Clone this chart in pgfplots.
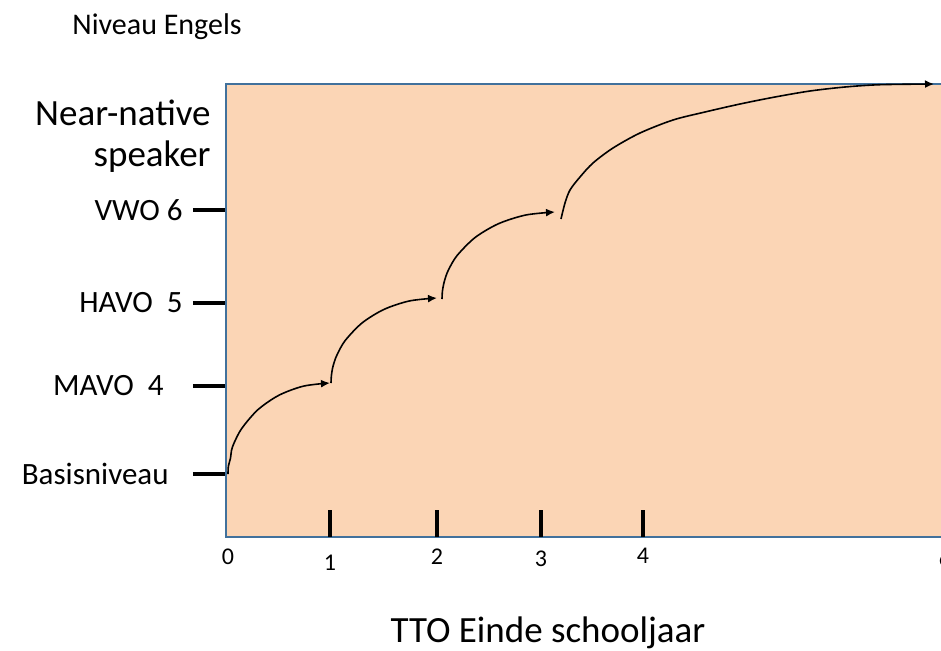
\documentclass[border=0pt]{standalone}
\usepackage{pgfplots}
\pgfplotsset{compat=1.18}
\usepackage{fontspec}
\setmainfont{Carlito}
\usetikzlibrary{arrows.meta}
\definecolor{peach}{HTML}{FBD5B5}
\definecolor{frame}{HTML}{41719C}
\begin{document}
\begin{tikzpicture}
\begin{axis}[
  x=0.5pt, y=0.5pt,
  xmin=226, xmax=990, ymin=113, ymax=566,
  axis background/.style={fill=peach},
  axis line style={draw=frame, line width=0.9pt},
  clip=false,
  xtick=\empty,
  ytick={176,264,347,440},
  yticklabels={Basisniveau\rule{7pt}{0pt}, MAVO\ \ 4\rule{9.5pt}{0pt}, HAVO\ \ 5, VWO 6},
  tick align=outside,
  ytick pos=left,
  major tick length=16.5pt,
  tick style={black, line width=1.6pt},
  yticklabel style={font=\fontsize{15.5}{18}\selectfont, anchor=east, inner sep=5pt},
  /pgf/number format/assume math mode=true,
]
% x tick marks (inside)
\addplot[black, line width=1.8pt] coordinates {(330,113) (330,140)};
\addplot[black, line width=1.8pt] coordinates {(437,113) (437,140)};
\addplot[black, line width=1.8pt] coordinates {(541,113) (541,140)};
\addplot[black, line width=1.8pt] coordinates {(643,113) (643,140)};
% growth arcs
\addplot[black, line width=0.8pt, smooth, -{Latex[length=4.5pt,width=4pt]}] coordinates {
 (228,176) (228.4,183.9) (230.5,191.8) (231.5,199.6) (234.1,207.1) (241.7,221.5) (257.9,240.3) (279,254.8) (303.6,263.9) (330,267)};
\addplot[black, line width=0.8pt, smooth, -{Latex[length=4.5pt,width=4pt]}] coordinates {
 (331,267) (331.4,274.4) (332.6,282) (334.6,289) (337.4,296) (345.2,309.5) (362,327) (384,340.6) (409.6,349.1) (437,352)};
\addplot[black, line width=0.8pt, smooth, -{Latex[length=4.5pt,width=4pt]}] coordinates {
 (442,351) (442.4,358.6) (443.7,366.1) (445.8,373.5) (448.8,380.8) (457.1,394.5) (475.1,412.5) (498.5,426.3) (525.8,435) (555,438)};
\addplot[black, line width=0.8pt, smooth, -{Latex[length=4.5pt,width=4pt]}] coordinates {
 (561,431) (565,447) (570,460) (580,473) (593,487) (613,502) (640,517) (673,530) (705,538) (740,546) (775,553) (810,559) (845,563) (880,565.3) (934,566)};
% x tick labels
\node[font=\fontsize{12}{14}\selectfont] at (axis cs:228,93) {0};
\node[font=\fontsize{12}{14}\selectfont] at (axis cs:330,87) {1};
\node[font=\fontsize{12}{14}\selectfont] at (axis cs:437,93) {2};
\node[font=\fontsize{12}{14}\selectfont] at (axis cs:541,91) {3};
\node[font=\fontsize{12}{14}\selectfont] at (axis cs:643,94) {4};
\node[font=\fontsize{12}{14}\selectfont] at (axis cs:945,92) {6};
% labels
\node[font=\fontsize{15}{18}\selectfont] at (axis cs:157,623) {Niveau Engels};
\node[font=\fontsize{18.5}{22}\selectfont, anchor=east, inner sep=0pt] at (axis cs:211,537) {Near-native};
\node[font=\fontsize{18.5}{22}\selectfont, anchor=east, inner sep=0pt] at (axis cs:211,493) {speaker};
\node[font=\fontsize{18.5}{22}\selectfont] at (axis cs:548,17) {TTO Einde schooljaar};
\coordinate (BL) at (axis cs:0,0);
\coordinate (TR) at (axis cs:941,650);
\end{axis}
\pgfresetboundingbox
\useasboundingbox (BL) rectangle (TR);
\end{tikzpicture}
\end{document}
